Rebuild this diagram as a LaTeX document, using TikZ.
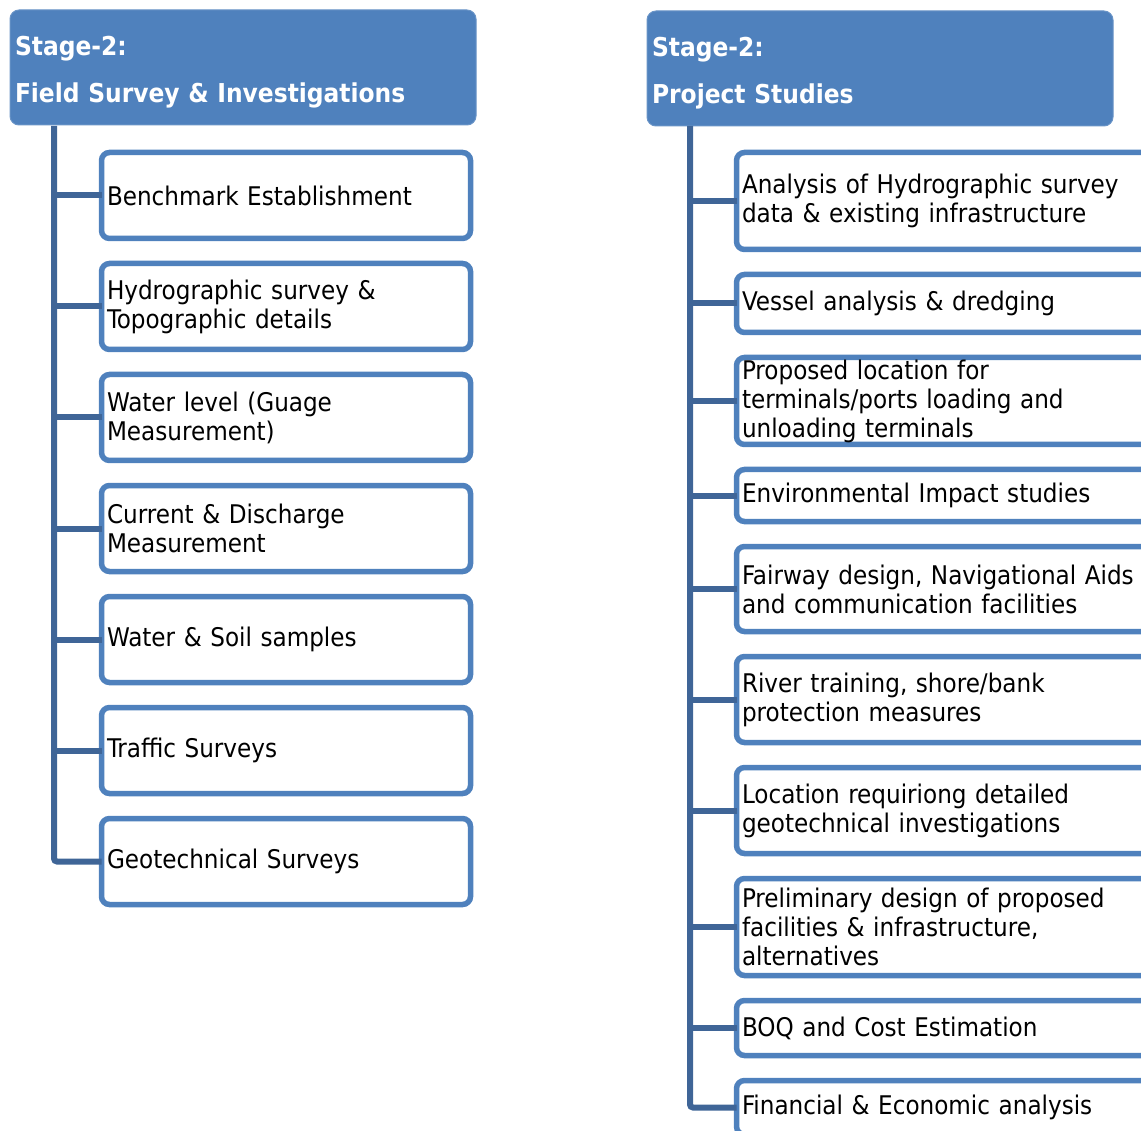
\documentclass[tikz,border=0pt]{standalone}
\usepackage{fontspec}
\setmainfont{DejaVu Sans Condensed}
\usepackage{tikz}
\usetikzlibrary{positioning}
\definecolor{hdrblue}{HTML}{4F81BD}
\definecolor{linkblue}{HTML}{3F6597}

\begin{document}
\begin{tikzpicture}[x=1pt, y=1pt, node distance={25pt},
    head/.style = {fill=hdrblue, draw=hdrblue!85!white, line width=1pt, rounded corners=9pt,
                   anchor=north west, outer sep=0pt, minimum width=466pt, minimum height=115pt,
                   inner xsep=5pt, text width=456pt, align=left, text=white,
                   font=\bfseries\fontsize{26}{47}\selectfont},
    item/.style = {draw=hdrblue, fill=white, line width=5.5pt, rounded corners=8pt, outer sep=0pt,
                   inner xsep=5.5pt, inner ysep=0pt, align=left,
                   font=\fontsize{25.7}{29}\selectfont},
    lbox/.style = {item, text width=358pt},
    rbox/.style = {item, text width=410pt},
    link/.style = {draw=linkblue, line width=6pt, rounded corners=3pt}]
    \useasboundingbox (0,0) rectangle (1141,-1131);

    % left column
    \node[head] (hdrL) at (10,-10) {\rule{0pt}{28pt}Stage-2:\\Field Survey \& Investigations};
    \node[lbox, anchor=north west, minimum height=86pt] (L1) at (101.5,-152.5) {Benchmark Establishment};
    \node[lbox, minimum height=86pt] (L2) [below=of L1] {Hydrographic survey \&\\Topographic details};
    \node[lbox, minimum height=86pt] (L3) [below=of L2] {Water level (Guage\\Measurement)};
    \node[lbox, minimum height=86pt] (L4) [below=of L3] {Current \& Discharge\\Measurement};
    \node[lbox, minimum height=86pt] (L5) [below=of L4] {Water \& Soil samples};
    \node[lbox, minimum height=86pt] (L6) [below=of L5] {Traffic Surveys};
    \node[lbox, minimum height=86pt] (L7) [below=of L6] {Geotechnical Surveys};

    \coordinate (spineL) at (54,-126);
    \path[link] (spineL) |- (L7.west);
    \path[link] (L1.west) -- (L1.west -| spineL);
    \path[link] (L2.west) -- (L2.west -| spineL);
    \path[link] (L3.west) -- (L3.west -| spineL);
    \path[link] (L4.west) -- (L4.west -| spineL);
    \path[link] (L5.west) -- (L5.west -| spineL);
    \path[link] (L6.west) -- (L6.west -| spineL);

    % right column
    \node[head] (hdrR) at (647,-11) {\rule{0pt}{28pt}Stage-2:\\Project Studies};
    \node[rbox, anchor=north west, minimum height=97pt] (R1) at (736.5,-152.5) {Analysis of Hydrographic survey\\data \& existing infrastructure};
    \node[rbox, minimum height=58pt] (R2) [below=of R1] {Vessel analysis \& dredging};
    \node[rbox, minimum height=87pt] (R3) [below=of R2] {Proposed location for\\terminals/ports loading and\\unloading terminals};
    \node[rbox, minimum height=52pt] (R4) [below=of R3] {Environmental Impact studies};
    \node[rbox, minimum height=85pt] (R5) [below=of R4] {Fairway design, Navigational Aids\\and communication facilities};
    \node[rbox, minimum height=86pt] (R6) [below=of R5] {River training, shore/bank\\protection measures};
    \node[rbox, minimum height=86pt] (R7) [below=of R6] {Location requiriong detailed\\geotechnical investigations};
    \node[rbox, minimum height=97pt] (R8) [below=of R7] {Preliminary design of proposed\\facilities \& infrastructure,\\alternatives};
    \node[rbox, minimum height=55pt] (R9) [below=of R8] {BOQ and Cost Estimation};
    \node[rbox, minimum height=54pt] (R10) [below=of R9] {Financial \& Economic analysis};

    \coordinate (spineR) at (690,-126);
    \path[link] (spineR) |- (R10.west);
    \path[link] (R1.west) -- (R1.west -| spineR);
    \path[link] (R2.west) -- (R2.west -| spineR);
    \path[link] (R3.west) -- (R3.west -| spineR);
    \path[link] (R4.west) -- (R4.west -| spineR);
    \path[link] (R5.west) -- (R5.west -| spineR);
    \path[link] (R6.west) -- (R6.west -| spineR);
    \path[link] (R7.west) -- (R7.west -| spineR);
    \path[link] (R8.west) -- (R8.west -| spineR);
    \path[link] (R9.west) -- (R9.west -| spineR);
\end{tikzpicture}
\end{document}
